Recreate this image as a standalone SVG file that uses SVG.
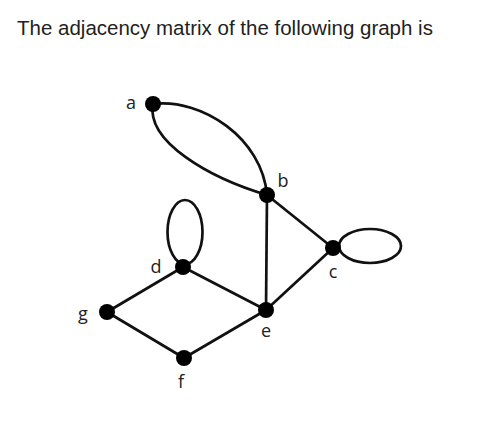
<svg xmlns="http://www.w3.org/2000/svg" width="488" height="436" viewBox="0 0 488 436">
  <style>
    .title { font-family: "Liberation Sans", Arial, sans-serif; font-size: 20.5px; fill: #222; }
    .lbl { font-family: "Open Sans", "Liberation Sans", sans-serif; font-size: 18px; fill: #222; text-anchor: middle; }
    .edge { fill: none; stroke: #111; stroke-width: 2.7; }
    .node { fill: #000; }
  </style>
  <rect width="488" height="436" fill="#fff"/>
  <text class="title" x="17" y="35">The adjacency matrix of the following graph is</text>
  <g id="edges">
    <path class="edge" d="M153,104 C202,98 262,138 267,195"/>
    <path class="edge" d="M153,104 C146,142 210,178 267,195"/>
    <line class="edge" x1="267" y1="195" x2="333" y2="248"/>
    <line class="edge" x1="267" y1="195" x2="266" y2="310"/>
    <line class="edge" x1="333" y1="248" x2="266" y2="310"/>
    <line class="edge" x1="183" y1="267" x2="266" y2="310"/>
    <line class="edge" x1="183" y1="267" x2="107" y2="312"/>
    <line class="edge" x1="107" y1="312" x2="184" y2="358"/>
    <line class="edge" x1="184" y1="358" x2="266" y2="310"/>
    <ellipse class="edge" cx="370" cy="246" rx="31" ry="17"/>
    <ellipse class="edge" cx="185" cy="232" rx="17.5" ry="32"/>
  </g>
  <g id="node-a"><circle class="node" cx="153" cy="104" r="8"/><text class="lbl" x="131" y="109">a</text></g>
  <g id="node-b"><circle class="node" cx="267" cy="195" r="8"/><text class="lbl" x="283" y="187">b</text></g>
  <g id="node-c"><circle class="node" cx="333" cy="248" r="8"/><text class="lbl" x="333" y="278">c</text></g>
  <g id="node-d"><circle class="node" cx="183" cy="267" r="8"/><text class="lbl" x="156" y="273">d</text></g>
  <g id="node-e"><circle class="node" cx="266" cy="310" r="8"/><text class="lbl" x="266" y="337">e</text></g>
  <g id="node-f"><circle class="node" cx="184" cy="358" r="8"/><text class="lbl" x="181" y="388">f</text></g>
  <g id="node-g"><circle class="node" cx="107" cy="312" r="8"/><text class="lbl" x="83" y="320">g</text></g>
</svg>
